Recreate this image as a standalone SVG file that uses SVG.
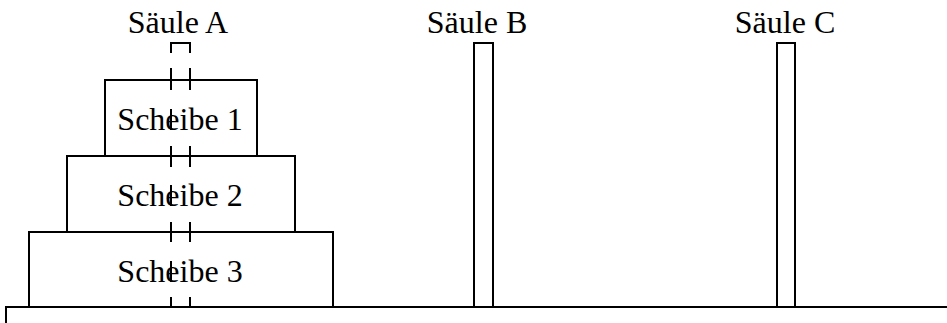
<svg xmlns="http://www.w3.org/2000/svg" width="947" height="323" viewBox="0 0 947 323">
<style>
.ln{fill:none;stroke:#000;stroke-width:2;stroke-linecap:butt}
.disk{fill:#fff;stroke:#000;stroke-width:2}
.t{font-family:"Liberation Serif","Times New Roman",serif;font-size:32px;fill:#000;text-anchor:middle}
</style>
<rect width="947" height="323" fill="#fff"/>
<g id="ground">
<path class="ln" d="M5,307 H947 M6,306 V323"/>
</g>
<g id="saeule-a">
<text class="t" x="178" y="33">Säule A</text>
<path class="ln" d="M171,53 V43 H190 V53 M171,68 V90 M190,68 V90 M171,146 V167 M190,146 V167 M171,222 V242 M190,222 V242 M171,297 V307 M190,297 V307"/>
</g>
<g id="saeule-b">
<text class="t" x="477" y="33">Säule B</text>
<rect class="disk" x="474" y="43" width="19" height="264"/>
</g>
<g id="saeule-c">
<text class="t" x="785" y="33">Säule C</text>
<rect class="disk" x="777" y="43" width="18" height="264"/>
</g>
<g id="scheibe-1">
<path class="ln" d="M105,156 V80 H257 V156"/>
<text class="t" x="180" y="130">Scheibe 1</text>
<path class="ln" d="M171,109 V130"/>
</g>
<g id="scheibe-2">
<path class="ln" d="M67,232 V156 H295 V232"/>
<text class="t" x="180" y="206">Scheibe 2</text>
<path class="ln" d="M171,185 V206"/>
</g>
<g id="scheibe-3">
<path class="ln" d="M29,307 V232 H333 V307"/>
<text class="t" x="180" y="282">Scheibe 3</text>
<path class="ln" d="M171,261 V282"/>
</g>
<g id="connectors"/>
</svg>
